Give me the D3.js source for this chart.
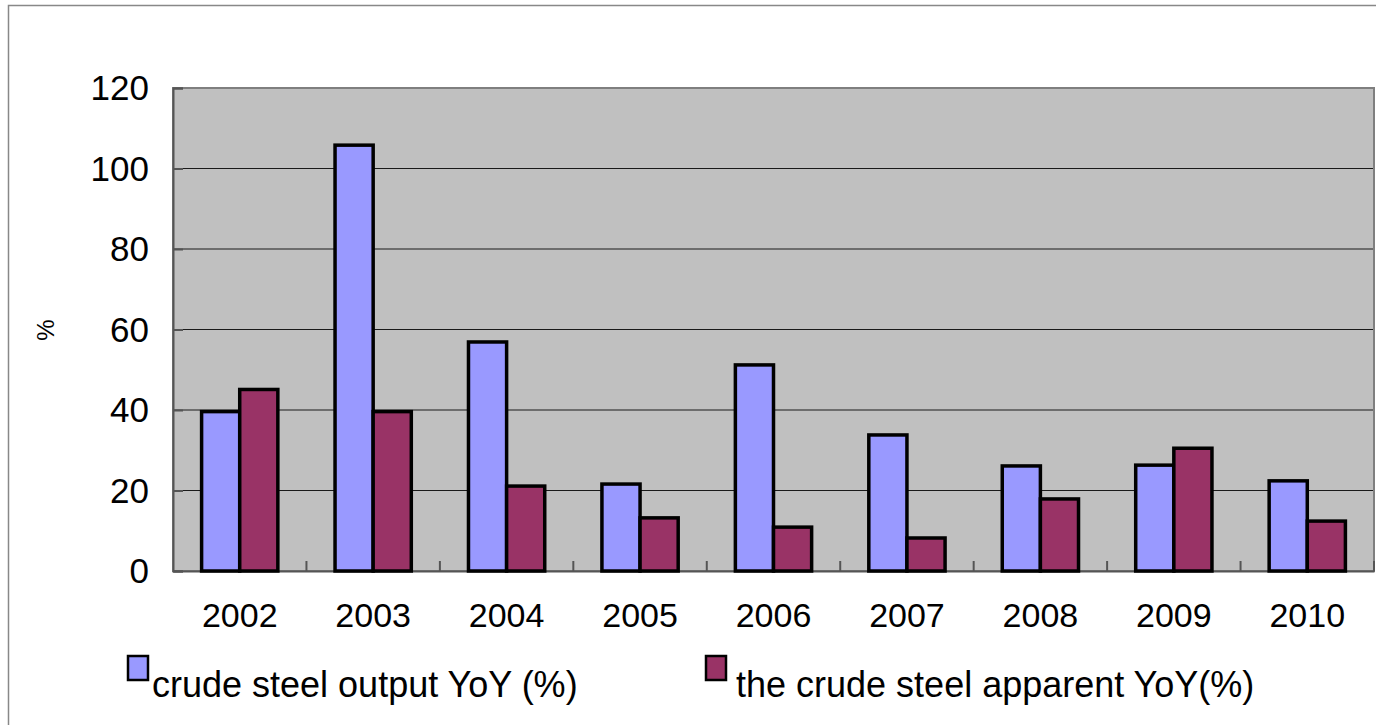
<!DOCTYPE html>
<html><head><meta charset="utf-8">
<script src="https://cdn.jsdelivr.net/npm/d3@7"></script>
<style>body{margin:0;background:#fff;}svg{display:block;font-family:"Liberation Sans",Arial,sans-serif;}</style>
</head><body>
<svg id="c" width="1376" height="725"></svg>
<script>
const years = ["2002","2003","2004","2005","2006","2007","2008","2009","2010"];
const outputYoY = [39.6, 105.8, 56.9, 21.6, 51.2, 33.8, 26.1, 26.3, 22.4];
const apparentYoY = [45.1, 39.6, 21.1, 13.2, 10.9, 8.2, 17.9, 30.5, 12.4];
const seriesNames = ["crude steel output YoY (%)", "the crude steel apparent YoY(%)"];
const colors = ["#9999FF", "#993366"];
const yTicks = [0, 20, 40, 60, 80, 100, 120];

const svg = d3.select("#c");
svg.append("rect").attr("x",8.5).attr("y",5.5).attr("width",1400).attr("height",800)
  .attr("fill","#fff").attr("stroke","#888").attr("stroke-width",1.5);

const L=173, R=1374, T=88, B=571;
const x = d3.scaleBand().domain(years).range([L,R]).paddingInner(0).paddingOuter(0);
const y = d3.scaleLinear().domain([0,120]).range([B,T]);

svg.append("rect").attr("x",L).attr("y",T).attr("width",R-L).attr("height",B-T).attr("fill","#C0C0C0");

// gridlines
svg.append("g").selectAll("line").data(yTicks.filter(d=>d>0&&d<120)).join("line")
  .attr("x1",L).attr("x2",R).attr("y1",d=>y(d)).attr("y2",d=>y(d))
  .attr("stroke","#1a1a1a").attr("stroke-width",1.2);

// plot border
svg.append("rect").attr("x",L).attr("y",T).attr("width",R-L).attr("height",B-T)
  .attr("fill","none").attr("stroke","#7f7f7f").attr("stroke-width",2);

// y axis
const yAxis = d3.axisLeft(y).tickValues(yTicks).tickSize(-10).tickPadding(24);
const gy = svg.append("g").attr("transform",`translate(${L},0)`).call(yAxis);
gy.select(".domain").attr("stroke","#555").attr("stroke-width",2);
gy.selectAll(".tick line").attr("stroke","#555").attr("stroke-width",2);
gy.selectAll("text").attr("font-size",35).attr("fill","#000").attr("font-family","Liberation Sans, Arial, sans-serif").attr("dy","0.34em");

// x axis
const xAxis = d3.axisBottom(x).tickSize(0).tickPadding(32);
const gx = svg.append("g").attr("transform",`translate(0,${B})`).call(xAxis);
gx.select(".domain").attr("stroke","#555").attr("stroke-width",2);
gx.selectAll("text").attr("font-size",34).attr("fill","#000").attr("font-family","Liberation Sans, Arial, sans-serif");
// category ticks (inside)
svg.append("g").selectAll("line").data(years.slice(1).concat(["end"])).join("line")
  .attr("x1",(d,i)=> i<years.length-1 ? x(d) : R).attr("x2",(d,i)=> i<years.length-1 ? x(d) : R)
  .attr("y1",B).attr("y2",B-10).attr("stroke","#555").attr("stroke-width",2);

// bars
const bw = x.bandwidth()/3.5;
const data = years.map((yr,i)=>({yr, v:[outputYoY[i], apparentYoY[i]]}));
const g = svg.append("g");
[0,1].forEach(s=>{
  g.selectAll(".b"+s).data(data).join("rect")
    .attr("x",d=>x(d.yr)+x.bandwidth()/2 - bw + s*bw)
    .attr("y",d=>y(d.v[s]))
    .attr("width",bw).attr("height",d=>B-y(d.v[s]))
    .attr("fill",colors[s]).attr("stroke","#000").attr("stroke-width",3.5);
});

// y label
svg.append("text").attr("transform","translate(54,330) rotate(-90)").attr("text-anchor","middle")
  .attr("font-size",24).attr("fill","#000").text("%");

// legend
const legX = [128, 706];
const txtX = [152, 736];
seriesNames.forEach((n,i)=>{
  svg.append("rect").attr("x",legX[i]).attr("y",656).attr("width",20).attr("height",24)
    .attr("fill",colors[i]).attr("stroke","#000").attr("stroke-width",2.5);
  svg.append("text").attr("x",txtX[i]).attr("y",697).attr("font-size",36).attr("fill","#000").text(n);
});
</script>
</body></html>
